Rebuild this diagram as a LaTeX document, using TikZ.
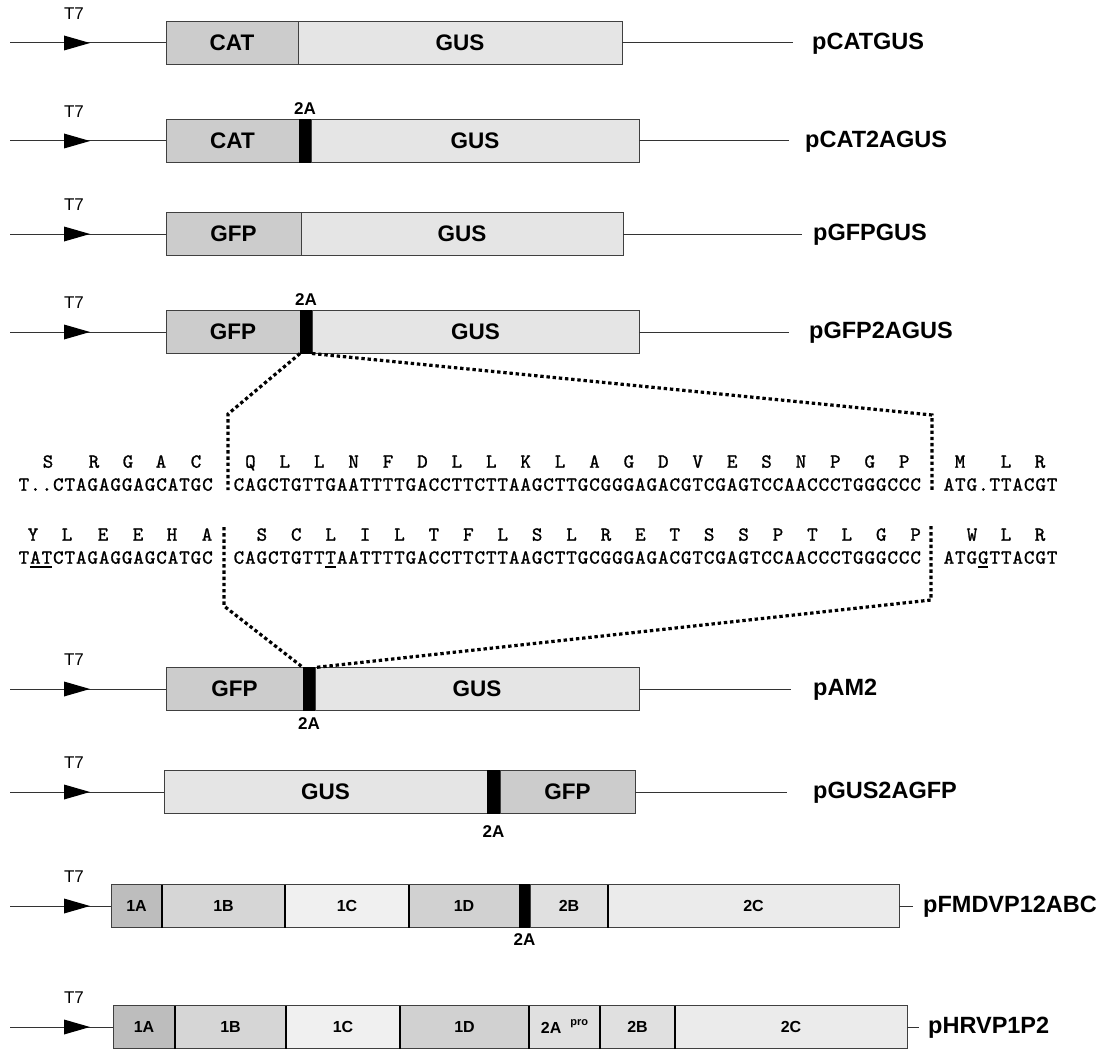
\documentclass[tikz,border=0pt]{standalone}
\usepackage{fontspec}
\setmainfont{Liberation Sans}
\newfontfamily\seqfont{lmmono10-regular.otf}[FakeBold=1.2]
\usetikzlibrary{calc}

% fixed-pitch sequence cells
\newlength\seqcw
\setlength\seqcw{11.47pt}
\def\monoseq#1{\monoseqA#1\relax}
\def\monoseqA#1{\ifx#1\relax\else\makebox[\seqcw][c]{#1}\expandafter\monoseqA\fi}
\def\aarow#1{\aarowA#1\relax}
\def\aarowA#1{\ifx#1\relax\else\makebox[3\seqcw][c]{#1}\expandafter\aarowA\fi}

\definecolor{fdark}{gray}{0.80}
\definecolor{flight}{gray}{0.90}
\definecolor{vA}{gray}{0.74}
\definecolor{vB}{gray}{0.84}
\definecolor{vC}{gray}{0.94}
\definecolor{vD}{gray}{0.82}
\definecolor{vE}{gray}{0.88}
\definecolor{vF}{gray}{0.92}

\begin{document}
\begin{tikzpicture}[x=1pt,y=-1pt,
  seg/.style={draw=black!75, line width=0.8pt, minimum height=43pt,
    inner sep=0pt, outer sep=0pt, anchor=west,
    font=\fontsize{22.5}{22.5}\bfseries\selectfont},
  vseg/.style={seg, font=\fontsize{16}{16}\bfseries\selectfont},
  bar/.style={seg, fill=black, draw=black},
  divider/.style={line width=2.8pt, black},
  backbone/.style={line width=1pt, black!80},
  promoter/.style={fill=black},
  tseven/.style={font=\fontsize{17}{17}\selectfont, inner sep=0pt},
  twoa/.style={font=\fontsize{17}{17}\bfseries\selectfont, inner sep=0pt},
  plabel/.style={anchor=base west, inner sep=0pt,
    font=\fontsize{23.5}{24}\bfseries\selectfont},
  seq/.style={anchor=base west, inner sep=0pt,
    font=\fontsize{20}{20}\seqfont\selectfont},
  aa/.style={anchor=base, inner sep=0pt,
    font=\fontsize{20}{20}\seqfont\selectfont},
  uline/.style={line width=1.3pt},
  zoomline/.style={line width=3.2pt, dash pattern=on 3.4pt off 2.8pt}]

\fill[white] (0,0) rectangle (1105,1051);
\useasboundingbox (0,0) rectangle (1105,1051);

% ---- constructs ----
% pCATGUS
\node[seg, fill=fdark, minimum width=132pt] (a1) at (166,43) {CAT};
\node[seg, fill=flight, minimum width=324pt] (z1) at (a1.east) {GUS};
% pCAT2AGUS
\node[seg, fill=fdark, minimum width=133pt] (a2) at (166,141) {CAT};
\node[bar, minimum width=12pt] (b2) at (a2.east) {};
\node[seg, fill=flight, minimum width=328pt] (z2) at (b2.east) {GUS};
% pGFPGUS
\node[seg, fill=fdark, minimum width=135pt] (a3) at (166,234) {GFP};
\node[seg, fill=flight, minimum width=322pt] (z3) at (a3.east) {GUS};
% pGFP2AGUS
\node[seg, fill=fdark, minimum width=134pt] (a4) at (166,332) {GFP};
\node[bar, minimum width=12pt] (b4) at (a4.east) {};
\node[seg, fill=flight, minimum width=327pt] (z4) at (b4.east) {GUS};
% pAM2
\node[seg, fill=fdark, minimum width=137pt] (a5) at (166,689) {GFP};
\node[bar, minimum width=12pt] (b5) at (a5.east) {};
\node[seg, fill=flight, minimum width=324pt] (z5) at (b5.east) {GUS};
% pGUS2AGFP
\node[seg, fill=flight, minimum width=323pt] (a6) at (164,792) {GUS};
\node[bar, minimum width=13pt] (b6) at (a6.east) {};
\node[seg, fill=fdark, minimum width=135pt] (z6) at (b6.east) {GFP};
% pFMDVP12ABC
\node[vseg, fill=vA, minimum width=51pt] (a7) at (111,906) {1A};
\node[vseg, fill=vB, minimum width=123pt] (f7b) at (a7.east) {1B};
\node[vseg, fill=vC, minimum width=124pt] (f7c) at (f7b.east) {1C};
\node[vseg, fill=vD, minimum width=110pt] (f7d) at (f7c.east) {1D};
\node[bar, minimum width=11pt] (b7) at (f7d.east) {};
\node[vseg, fill=vE, minimum width=78pt] (f7e) at (b7.east) {2B};
\node[vseg, fill=vF, minimum width=291pt] (z7) at (f7e.east) {2C};
\foreach \s in {a7,f7b,f7c,f7e}
  \draw[divider] (\s.north east) -- (\s.south east);
% pHRVP1P2
\node[vseg, fill=vA, minimum width=62pt] (a8) at (113,1027) {1A};
\node[vseg, fill=vB, minimum width=111pt] (f8b) at (a8.east) {1B};
\node[vseg, fill=vC, minimum width=114pt] (f8c) at (f8b.east) {1C};
\node[vseg, fill=vD, minimum width=129pt] (f8d) at (f8c.east) {1D};
\node[vseg, fill=vE, minimum width=71pt] (f8e) at (f8d.east)
  {2A\hspace{9pt}\raisebox{8pt}{\fontsize{11}{11}\bfseries\selectfont pro}};
\node[vseg, fill=vE, minimum width=75pt] (f8f) at (f8e.east) {2B};
\node[vseg, fill=vF, minimum width=232pt] (z8) at (f8f.east) {2C};
\foreach \s in {a8,f8b,f8c,f8d,f8e,f8f}
  \draw[divider] (\s.north east) -- (\s.south east);

% ---- promoter, backbone and names ----
\foreach \n/\y/\ex/\lx/\lab in {
    1/43/793/812/pCATGUS,
    2/141/789/805/pCAT2AGUS,
    3/234/802/813/pGFPGUS,
    4/332/789/809/pGFP2AGUS,
    5/689/791/813/pAM2,
    6/792/787/813/pGUS2AGFP,
    7/906/913/923/pFMDVP12ABC,
    8/1027/919/928/pHRVP1P2}{
  \coordinate (s\n) at (10,\y);
  \coordinate (e\n) at (\ex,\y);
  \draw[backbone] (s\n) -- (a\n.west);
  \draw[backbone] (z\n.east) -- (e\n);
  \fill[promoter] (64,\y-7.5) -- (90,\y) -- (64,\y+7.5) -- cycle;
  \node[tseven] (t\n) at (74,\y-29) {T7};
  \node[plabel] (lab\n) at (\lx,\y+6.4) {\lab};
}

% ---- 2A labels ----
\node[twoa, anchor=south] (la2) at ([yshift=4.5pt]b2.north) {2A};
\node[twoa, anchor=south] (la4) at ([yshift=4.5pt]b4.north) {2A};
\node[twoa, anchor=north] (la5) at ([yshift=-7pt]b5.south) {2A};
\node[twoa, anchor=north] (la6) at ([yshift=-12pt]b6.south) {2A};
\node[twoa, anchor=north] (la7) at ([yshift=-6pt]b7.south) {2A};

% ---- sequences ----
\node[seq] (d1l) at (18,490.7) {\monoseq{T..CTAGAGGAGCATGC}};
\node[seq] (d1m) at (233,490.7)
  {\monoseq{CAGCTGTTGAATTTTGACCTTCTTAAGCTTGCGGGAGACGTCGAGTCCAACCCTGGGCCC}};
\node[seq] (d1r) at (943,490.7) {\monoseq{ATG.TTACGT}};
\node[seq] (d2l) at (18,563.7) {\monoseq{TATCTAGAGGAGCATGC}};
\node[seq] (d2m) at (233,563.7)
  {\monoseq{CAGCTGTTTAATTTTGACCTTCTTAAGCTTGCGGGAGACGTCGAGTCCAACCCTGGGCCC}};
\node[seq] (d2r) at (943,563.7) {\monoseq{ATGGTTACGT}};

% amino acids
\node[seq] (p1m) at (233,467.7) {\aarow{QLLNFDLLKLAGDVESNPGP}};
\node[seq] (p2m) at (244.47,540.7) {\aarow{SCLILTFLSLRETSSPTLGP}};
\foreach \x/\c [count=\i] in {48/S,94/R,128/G,161/A,196/C,960/M,1006/L,1040/R}
  \node[aa] (p1x\i) at (\x,467.7) {\c};
\foreach \x/\c [count=\i] in {33/Y,67/L,103/E,138/E,172/H,207/A,972/W,1006/L,1040/R}
  \node[aa] (p2x\i) at (\x,540.7) {\c};

% changed bases
\draw[uline] (29.8,567) -- (52.2,567);
\draw[uline] (325.2,567) -- (335.8,567);
\draw[uline] (977.8,567) -- (988.4,567);

% ---- zoom lines to the 2A region ----
\coordinate (zl1) at (228,414);
\coordinate (zl2) at (228,490);
\coordinate (zr1) at (932,415);
\coordinate (zr2) at (932,490);
\coordinate (zl3) at (224,527);
\coordinate (zl4) at (224,606);
\coordinate (zr3) at (931,526);
\coordinate (zr4) at (931,600);
\draw[zoomline] (b4.south west) -- (zl1) -- (zl2);
\draw[zoomline] (b4.south east) -- (zr1) -- (zr2);
\draw[zoomline] (zl3) -- (zl4) -- (b5.north west);
\draw[zoomline] (zr3) -- (zr4) -- (b5.north east);
\end{tikzpicture}
\end{document}
